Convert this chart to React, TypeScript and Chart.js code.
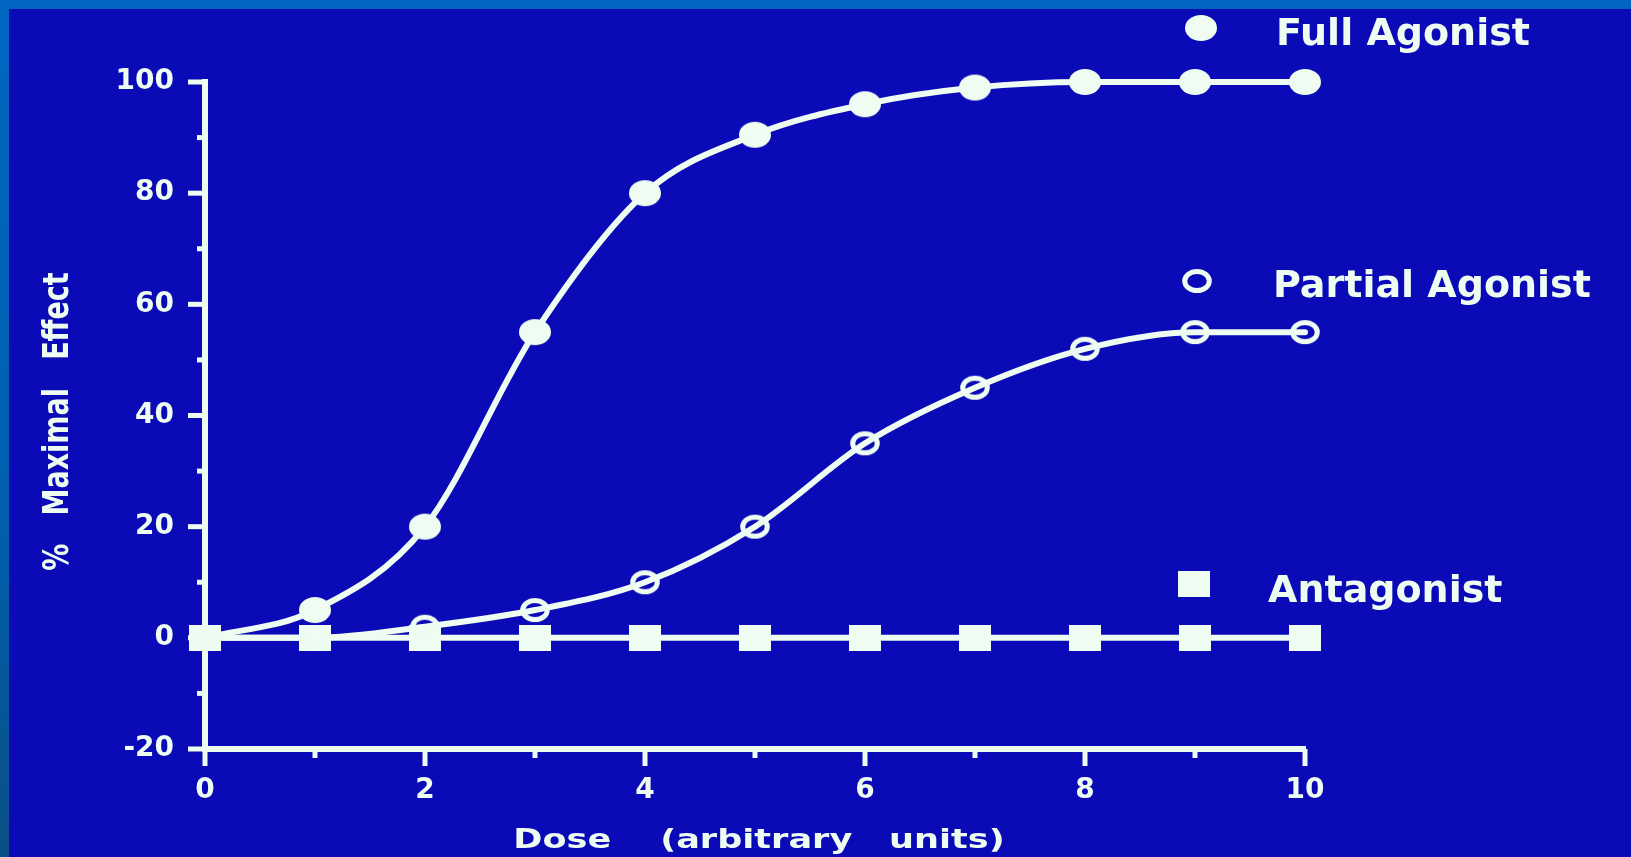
import React, { useEffect, useRef } from 'react';
import { Chart, registerables } from 'chart.js';

Chart.register(...registerables);

// ---------- data ----------
const DOSES = [0, 1, 2, 3, 4, 5, 6, 7, 8, 9, 10];
const FULL_AGONIST = [0, 5, 20, 55, 80, 90.5, 96, 99, 100, 100, 100];
const PARTIAL_AGONIST = [0, 0, 2, 5, 10, 20, 35, 45, 52, 55, 55];
const ANTAGONIST = [0, 0, 0, 0, 0, 0, 0, 0, 0, 0, 0];
const SERIES_NAMES = ['Full Agonist', 'Partial Agonist', 'Antagonist'];
const X_TICKS = [0, 2, 4, 6, 8, 10];
const Y_TICKS = [-20, 0, 20, 40, 60, 80, 100];
const X_TITLE = 'Dose    (arbitrary   units)';
const Y_TITLE = '%   Maximal   Effect';

// ---------- styles ----------
const WHITE = '#eefcf1';
const DARK_BLUE = '#0a0bb6';
const FONT = 'DejaVu Sans';

function makeMarker(kind: 'disc' | 'ring' | 'square'): HTMLCanvasElement {
  const c = document.createElement('canvas');
  const w = 34;
  const h = kind === 'square' ? 26 : 28;
  c.width = w;
  c.height = h;
  const g = c.getContext('2d')!;
  g.fillStyle = WHITE;
  g.strokeStyle = WHITE;
  if (kind === 'disc') {
    g.beginPath();
    g.ellipse(w / 2, h / 2, 16, 13, 0, 0, Math.PI * 2);
    g.fill();
  } else if (kind === 'ring') {
    g.lineWidth = 5;
    g.beginPath();
    g.ellipse(w / 2, h / 2, 12.3, 9.6, 0, 0, Math.PI * 2);
    g.stroke();
  } else {
    g.fillRect(1, 0, 32, h);
  }
  return c;
}

export default function App() {
  const ref = useRef<HTMLCanvasElement | null>(null);

  useEffect(() => {
    if (!ref.current) return;
    const disc = makeMarker('disc');
    const ring = makeMarker('ring');
    const square = makeMarker('square');
    const markers = [disc, ring, square];

    const legendLayout = [
      { mx: 1201, my: 28, tx: 1276, by: 45 },
      { mx: 1197, my: 281, tx: 1273, by: 297 },
      { mx: 1194, my: 584, tx: 1268, by: 602 },
    ];

    const decor = {
      id: 'decor',
      beforeDatasetsDraw(chart: any) {
        const { ctx, chartArea, scales } = chart;
        const xs = scales.x;
        const ys = scales.y;
        ctx.save();
        ctx.strokeStyle = WHITE;
        ctx.lineWidth = 5;
        ctx.lineCap = 'butt';
        // y ticks (major every 20, minor every 10)
        for (let v = ys.min; v <= ys.max; v += 10) {
          const p = ys.getPixelForValue(v);
          const len = v % 20 === 0 ? 17 : 8;
          ctx.beginPath();
          ctx.moveTo(chartArea.left - len, p);
          ctx.lineTo(chartArea.left, p);
          ctx.stroke();
        }
        // x ticks (major every 2, minor every 1)
        for (let v = xs.min; v <= xs.max; v += 1) {
          const p = xs.getPixelForValue(v);
          const len = v % 2 === 0 ? 17 : 9;
          ctx.beginPath();
          ctx.moveTo(p, chartArea.bottom);
          ctx.lineTo(p, chartArea.bottom + len);
          ctx.stroke();
        }
        ctx.restore();
      },
      afterDraw(chart: any) {
        const { ctx, chartArea } = chart;
        ctx.save();
        ctx.fillStyle = WHITE;
        // x title (horizontally stretched)
        ctx.save();
        ctx.translate((chartArea.left + chartArea.right) / 2 + 4, 848);
        ctx.scale(1.3, 1);
        ctx.font = `bold 27px "${FONT}"`;
        ctx.textAlign = 'center';
        ctx.textBaseline = 'alphabetic';
        ctx.fillText(X_TITLE, 0, 0);
        ctx.restore();
        // y title (rotated, stretched across)
        ctx.save();
        const capH = 27 * 0.729;
        ctx.translate(55, (chartArea.top + chartArea.bottom) / 2 + 6);
        ctx.rotate(-Math.PI / 2);
        ctx.scale(1, 1.3);
        ctx.font = `bold 27px "${FONT}"`;
        ctx.textAlign = 'center';
        ctx.textBaseline = 'alphabetic';
        ctx.fillText(Y_TITLE, 0, capH / 2);
        ctx.restore();
        // legend
        ctx.font = `bold 38px "${FONT}"`;
        ctx.textAlign = 'left';
        ctx.textBaseline = 'alphabetic';
        SERIES_NAMES.forEach((name, i) => {
          const L = legendLayout[i];
          const m = markers[i];
          ctx.drawImage(m, L.mx - m.width / 2, L.my - m.height / 2);
          ctx.fillText(name, L.tx, L.by);
        });
        ctx.restore();
      },
    };

    const toPoints = (vals: number[]) => DOSES.map((d, i) => ({ x: d, y: vals[i] }));

    const common = {
      borderColor: WHITE,
      backgroundColor: WHITE,
      borderWidth: 6,
      borderJoinStyle: 'round' as const,
      borderCapStyle: 'round' as const,
      cubicInterpolationMode: 'monotone' as const,
      clip: false as const,
      pointBorderWidth: 0,
      pointHoverRadius: 14,
    };

    const chart = new Chart(ref.current, {
      type: 'line',
      data: {
        datasets: [
          {
            ...common,
            label: SERIES_NAMES[0],
            data: toPoints(FULL_AGONIST),
            pointStyle: disc,
            pointRadius: (c: any) => (c.dataIndex === 0 ? 0 : 14),
            order: 1,
          },
          {
            ...common,
            label: SERIES_NAMES[1],
            data: toPoints(PARTIAL_AGONIST),
            pointStyle: ring,
            pointRadius: 13,
            order: 0,
          },
          {
            ...common,
            label: SERIES_NAMES[2],
            data: toPoints(ANTAGONIST),
            pointStyle: square,
            pointRadius: 14,
            order: 2,
          },
        ] as any,
      },
      options: {
        responsive: true,
        maintainAspectRatio: false,
        animation: false,
        events: [],
        layout: { padding: { left: 0, top: 82, right: 326, bottom: 0 } },
        plugins: {
          legend: { display: false },
          tooltip: { enabled: false },
          title: { display: false },
        },
        scales: {
          x: {
            type: 'linear',
            min: 0,
            max: 10,
            afterFit: (s: any) => {
              s.height = 108;
            },
            afterBuildTicks: (s: any) => {
              s.ticks = X_TICKS.map((v) => ({ value: v }));
            },
            ticks: {
              color: WHITE,
              font: { family: FONT, size: 28, weight: 'bold' },
              padding: 25,
              maxRotation: 0,
              autoSkip: false,
            },
            grid: { display: false, drawTicks: false },
            border: { display: true, color: WHITE, width: 6 },
          },
          y: {
            type: 'linear',
            min: -20,
            max: 100,
            afterFit: (s: any) => {
              s.width = 205;
            },
            afterBuildTicks: (s: any) => {
              s.ticks = Y_TICKS.map((v) => ({ value: v }));
            },
            ticks: {
              color: WHITE,
              font: { family: FONT, size: 28, weight: 'bold' },
              padding: 31,
              autoSkip: false,
            },
            grid: { display: false, drawTicks: false },
            border: { display: true, color: WHITE, width: 6 },
          },
        },
      } as any,
      plugins: [decor],
    });

    return () => {
      chart.destroy();
    };
  }, []);

  return (
    <div
      style={{
        position: 'fixed',
        left: 0,
        top: 0,
        width: '100vw',
        height: '100vh',
        overflow: 'hidden',
        background: 'linear-gradient(180deg, #0066c2 0%, #005fae 60%, #0a4f86 100%)',
      }}
    >
      <div style={{ position: 'absolute', left: 9, top: 9, right: 0, bottom: 0, background: DARK_BLUE }} />
      <div style={{ position: 'absolute', left: 0, top: 0, width: '100%', height: '100%' }}>
        <canvas ref={ref} />
      </div>
    </div>
  );
}
